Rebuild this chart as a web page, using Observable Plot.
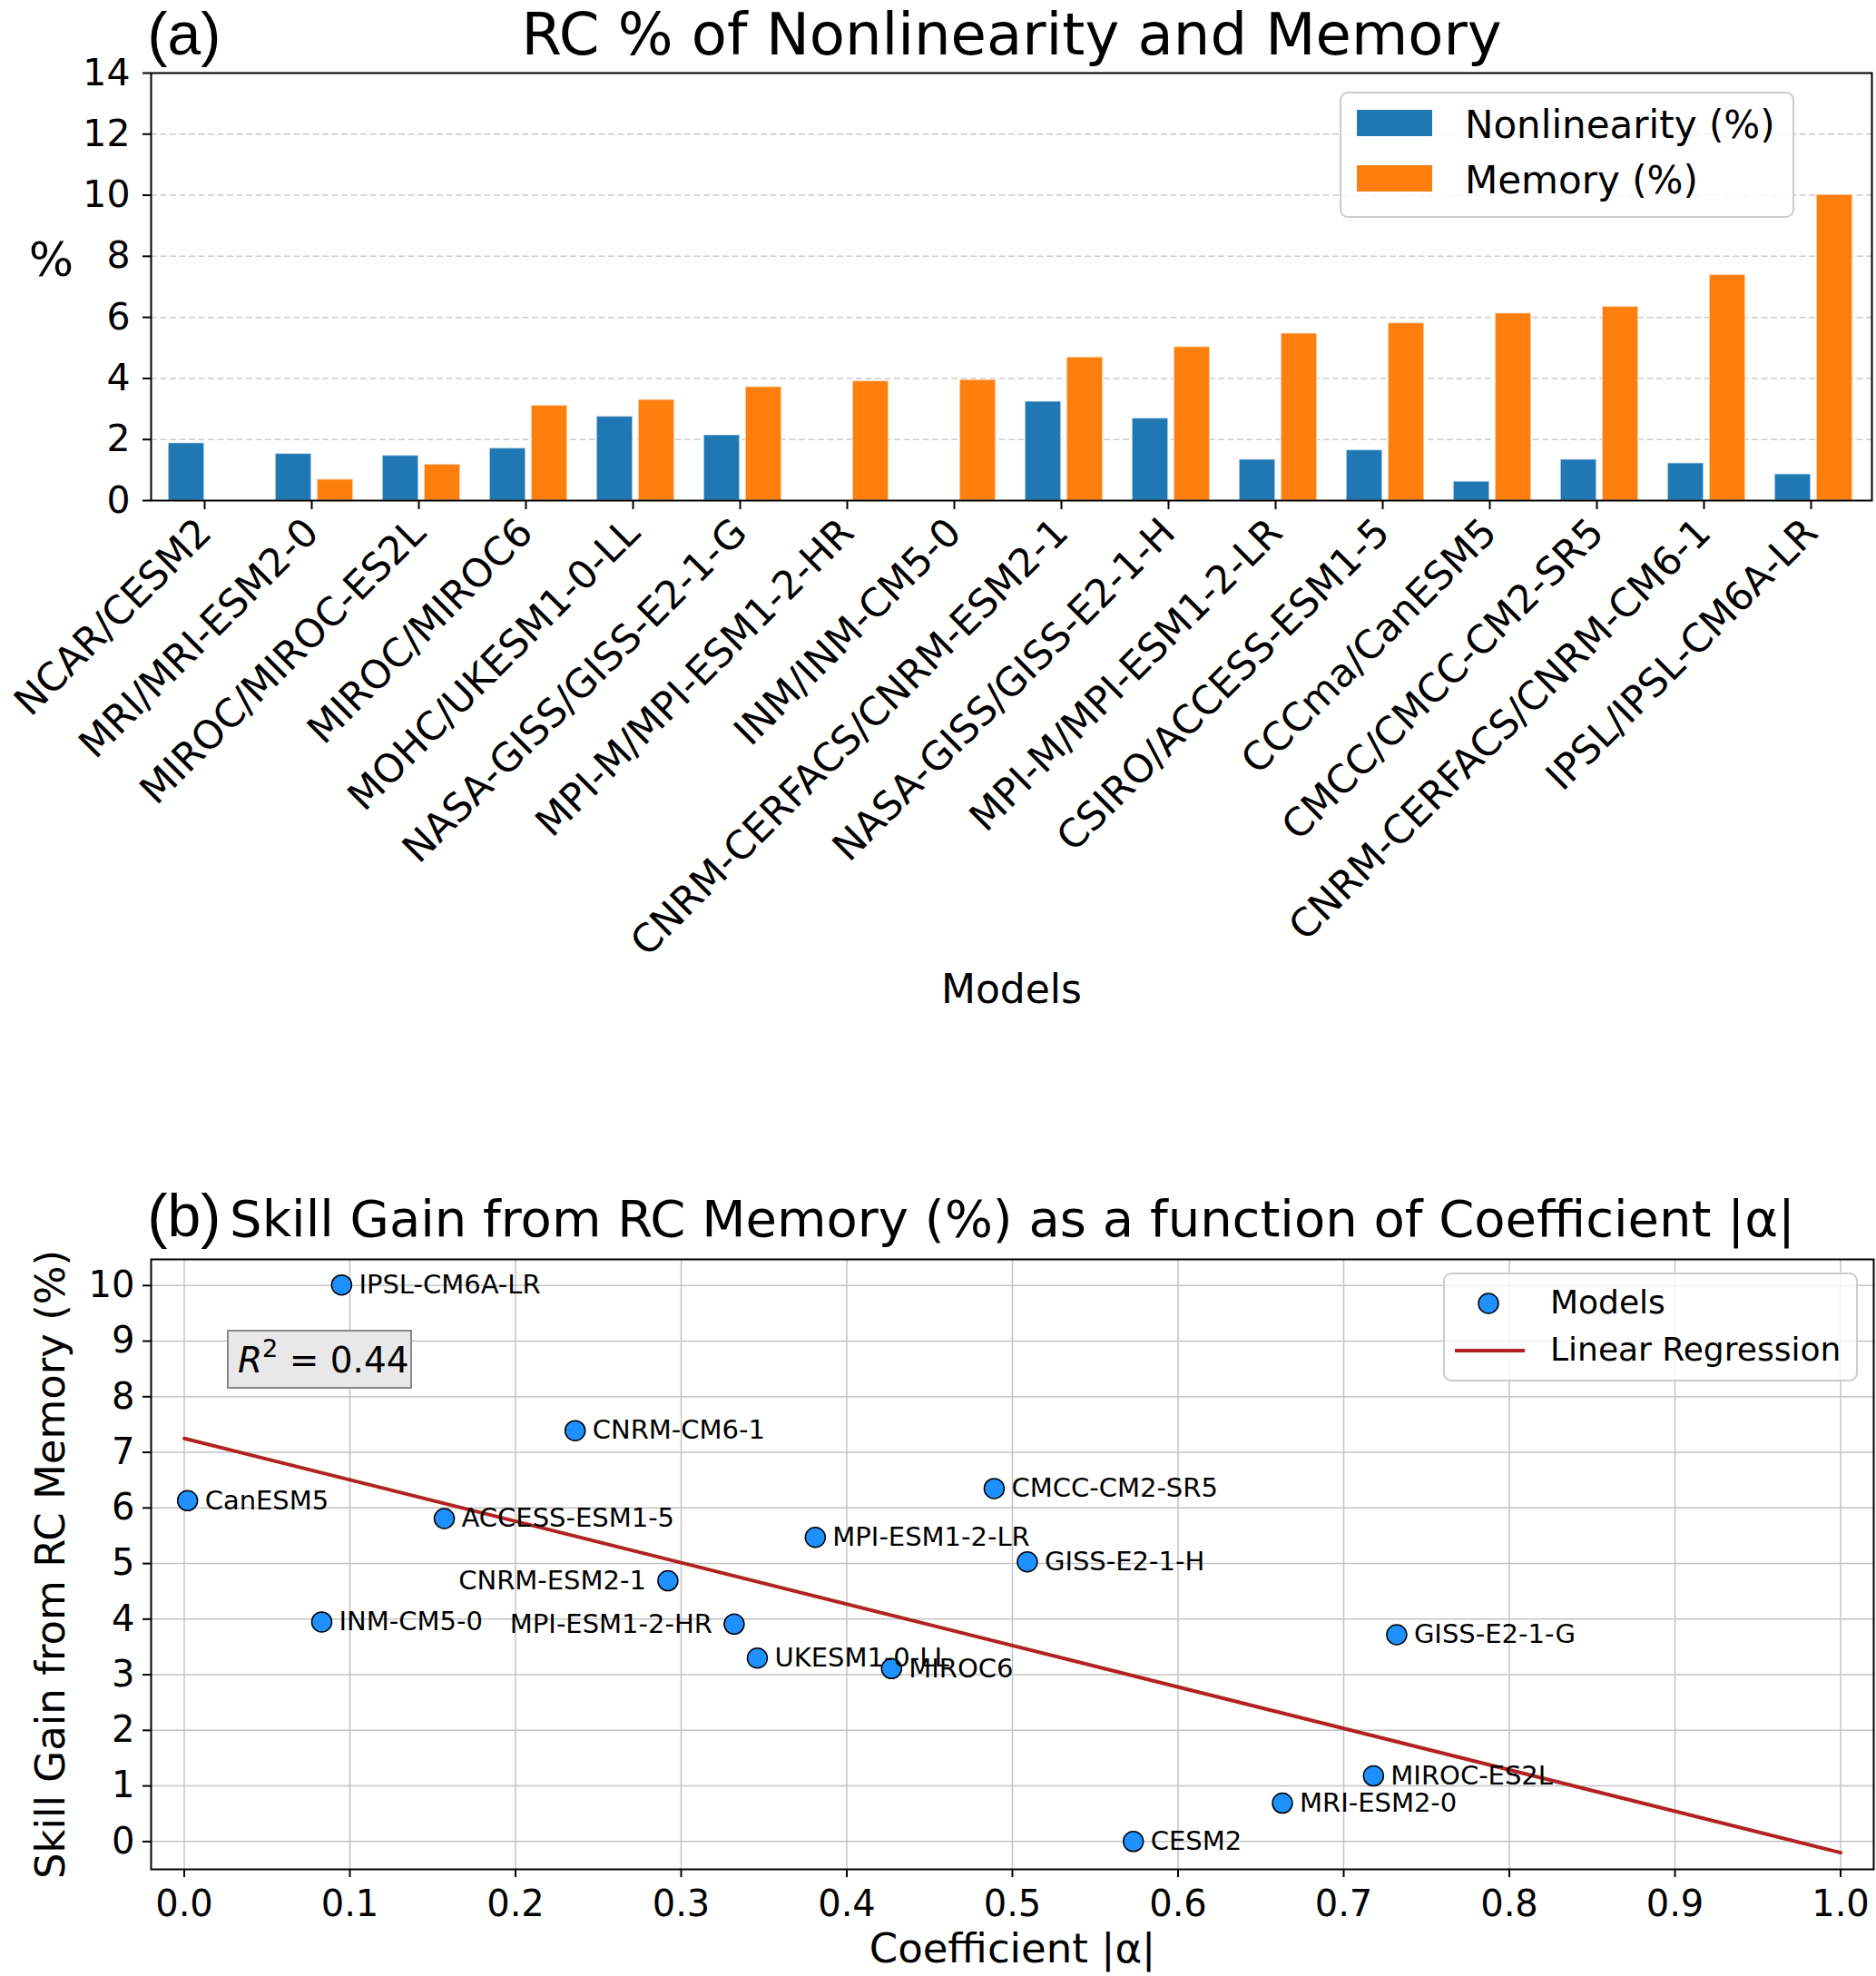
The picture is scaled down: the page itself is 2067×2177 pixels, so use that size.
<!DOCTYPE html>
<html><head><meta charset="utf-8">
<script src="https://cdn.jsdelivr.net/npm/d3@7"></script>
<script src="https://cdn.jsdelivr.net/npm/@observablehq/plot@0.6"></script>
<style>
body{margin:0;background:#fff;}
#fig{position:relative;width:2067px;height:2177px;background:#fff;font-family:"DejaVu Sans";overflow:hidden;}
#fig svg{position:absolute;left:0;overflow:visible;}
</style></head><body><div id="fig"></div>
<script>
// ---------- data ----------
const models = ["NCAR/CESM2","MRI/MRI-ESM2-0","MIROC/MIROC-ES2L","MIROC/MIROC6","MOHC/UKESM1-0-LL","NASA-GISS/GISS-E2-1-G","MPI-M/MPI-ESM1-2-HR","INM/INM-CM5-0","CNRM-CERFACS/CNRM-ESM2-1","NASA-GISS/GISS-E2-1-H","MPI-M/MPI-ESM1-2-LR","CSIRO/ACCESS-ESM1-5","CCCma/CanESM5","CMCC/CMCC-CM2-SR5","CNRM-CERFACS/CNRM-CM6-1","IPSL/IPSL-CM6A-LR"];
const nonlinearity = [1.88,1.53,1.47,1.71,2.75,2.14,0,0,3.24,2.69,1.34,1.65,0.62,1.34,1.22,0.86];
const memory = [0,0.69,1.18,3.11,3.30,3.72,3.91,3.95,4.69,5.03,5.47,5.81,6.13,6.35,7.39,10.01];
const shortNames = ["CESM2","MRI-ESM2-0","MIROC-ES2L","MIROC6","UKESM1-0-LL","GISS-E2-1-G","MPI-ESM1-2-HR","INM-CM5-0","CNRM-ESM2-1","GISS-E2-1-H","MPI-ESM1-2-LR","ACCESS-ESM1-5","CanESM5","CMCC-CM2-SR5","CNRM-CM6-1","IPSL-CM6A-LR"];
const alphaCoef = [0.573,0.663,0.718,0.427,0.346,0.732,0.332,0.083,0.292,0.509,0.381,0.157,0.002,0.489,0.236,0.095];
const labelSide = ["right","right","right","right","right","right","left","right","left","right","right","right","right","right","right","right"];
const regX = [0, 1];
const regY = [7.25, -0.2];
const r2Value = [0.44];
const seriesNames = ["Nonlinearity (%)","Memory (%)"];
const seriesColors = ["#1f77b4","#ff7f0e"];
const yTicksA = [0,2,4,6,8,10,12,14];
const xTicksB = [0,0.1,0.2,0.3,0.4,0.5,0.6,0.7,0.8,0.9,1.0];
const yTicksB = [0,1,2,3,4,5,6,7,8,9,10];
const titles = ["RC % of Nonlinearity and Memory","Skill Gain from RC Memory (%) as a function of Coefficient |α|"];
const panelLetters = ["(a)","(b)"];
const axisLabels = ["%","Models","Skill Gain from RC Memory (%)","Coefficient |α|"];
const legendB = ["Models","Linear Regression"];

// ---------- tables ----------
const W = 2067;
const FONT = "DejaVu Sans";
const barRows = models.flatMap((m,i)=>[
  {model:m, series:seriesNames[0], value:nonlinearity[i]},
  {model:m, series:seriesNames[1], value:memory[i]}
]);
const pts = shortNames.map((n,i)=>({name:n, a:alphaCoef[i], m:memory[i], side:labelSide[i]}));
const regRows = regX.map((x,i)=>({x, y:regY[i]}));

const fig = document.getElementById("fig");

// ---------- panel (a) ----------
const mlA = 166, mrA = 5;
const bw = (W - mlA - mrA) / models.length;
const barEdge = {stroke: "white", strokeOpacity: 0.45, strokeWidth: 1.5};
const chartA = Plot.plot({
  width: W, height: 1130, marginTop: 80, marginBottom: 579, marginLeft: mlA, marginRight: mrA,
  style: {fontFamily: FONT, background: "white", overflow: "visible"},
  x: {domain: models, padding: 0},
  y: {domain: [0, 14]},
  marks: [
    Plot.gridY(yTicksA.filter(d => d > 0 && d < 14), {stroke: "#cccccc", strokeOpacity: 1, strokeWidth: 1.5, strokeDasharray: "7,3.5"}),
    Plot.barY(barRows.filter(d => d.series === seriesNames[0]), {x: "model", y: "value", fill: seriesColors[0], ...barEdge, insetLeft: bw/2 - 44, insetRight: bw/2 + 4}),
    Plot.barY(barRows.filter(d => d.series === seriesNames[1]), {x: "model", y: "value", fill: seriesColors[1], ...barEdge, insetLeft: bw/2 + 2, insetRight: bw/2 - 42}),
    Plot.frame({stroke: "black", strokeWidth: 2}),
    Plot.axisY(yTicksA, {tickSize: 9, tickPadding: 14, fontSize: 41, strokeWidth: 2, label: null, tickFormat: d3.format("d")}),
    Plot.axisX({tickRotate: -45, tickSize: 10, tickPadding: 18, dx: -4, fontSize: 43, strokeWidth: 2, label: null}),
    Plot.text([titles[0]], {text: d => d, frameAnchor: "top", dy: -21, lineAnchor: "bottom", fontSize: 64}),
    Plot.text([panelLetters[0]], {text: d => d, frameAnchor: "top-left", dx: -4, dy: -21, lineAnchor: "bottom", textAnchor: "start", fontSize: 66, fontFamily: "Liberation Sans"}),
    Plot.text([axisLabels[0]], {text: d => d, frameAnchor: "left", dx: -110, dy: -12, lineAnchor: "bottom", textAnchor: "middle", fontSize: 52}),
    Plot.text([axisLabels[1]], {text: d => d, frameAnchor: "bottom", dy: 553, lineAnchor: "bottom", fontSize: 44})
  ]
});
chartA.style.top = "0px";
fig.appendChild(chartA);

// legend (a)
{
  const g = d3.select(chartA).append("g").attr("font-family", FONT).attr("text-anchor", "start");
  g.append("rect").attr("x", 1477).attr("y", 102).attr("width", 499).attr("height", 137).attr("rx", 8)
    .attr("fill", "white").attr("fill-opacity", 0.8).attr("stroke", "#cccccc").attr("stroke-width", 2);
  seriesNames.forEach((s, i) => {
    g.append("rect").attr("x", 1495).attr("y", 121 + i*61).attr("width", 83).attr("height", 29).attr("fill", seriesColors[i]);
    g.append("text").attr("x", 1614).attr("y", 152 + i*61).attr("font-size", 42).attr("fill", "black").text(s);
  });
}

// ---------- panel (b) ----------
const chartB = Plot.plot({
  width: W, height: 887, marginTop: 97, marginBottom: 118, marginLeft: 166, marginRight: 3,
  style: {fontFamily: FONT, background: "white", overflow: "visible"},
  x: {domain: [-0.02, 1.02]},
  y: {domain: [-0.5, 10.47]},
  marks: [
    Plot.gridX(xTicksB, {stroke: "#c4c4c4", strokeOpacity: 1, strokeWidth: 1.5}),
    Plot.gridY(yTicksB, {stroke: "#c4c4c4", strokeOpacity: 1, strokeWidth: 1.5}),
    Plot.line(regRows, {x: "x", y: "y", stroke: "#b22222", strokeWidth: 4}),
    Plot.dot(pts, {x: "a", y: "m", r: 11, fill: "#1e90ff", stroke: "black", strokeWidth: 1.5}),
    Plot.text(pts.filter(d => d.side === "right"), {x: "a", y: "m", text: "name", dx: 19, textAnchor: "start", fontSize: 29}),
    Plot.text(pts.filter(d => d.side === "left"), {x: "a", y: "m", text: "name", dx: -24, textAnchor: "end", fontSize: 29}),
    Plot.frame({stroke: "black", strokeWidth: 2}),
    Plot.axisX(xTicksB, {tickSize: 9, tickPadding: 14, fontSize: 40, tickFormat: d3.format(".1f"), strokeWidth: 2, label: null}),
    Plot.axisY(yTicksB, {tickSize: 9, tickPadding: 9, fontSize: 40, tickFormat: d3.format("d"), strokeWidth: 2, label: null}),
    Plot.text([titles[1]], {text: d => d, frameAnchor: "top", dy: -26, lineAnchor: "bottom", fontSize: 56}),
    Plot.text([panelLetters[1]], {text: d => d, frameAnchor: "top-left", dx: -4, dy: -26, lineAnchor: "bottom", textAnchor: "start", fontSize: 66, fontFamily: "Liberation Sans"}),
    Plot.text([axisLabels[2]], {text: d => d, frameAnchor: "left", dx: -110, rotate: -90, lineAnchor: "middle", textAnchor: "middle", fontSize: 45}),
    Plot.text([axisLabels[3]], {text: d => d, frameAnchor: "bottom", dy: 102, lineAnchor: "bottom", fontSize: 45})
  ]
});
chartB.style.top = "1290px";
fig.appendChild(chartB);

// R^2 box and legend (b)
{
  const s = d3.select(chartB);
  const g = s.append("g").attr("font-family", FONT).attr("text-anchor", "start");
  g.append("rect").attr("x", 251).attr("y", 176).attr("width", 202).attr("height", 63)
    .attr("fill", "#e8e8e8").attr("stroke", "#888888").attr("stroke-width", 2);
  const t = g.append("text").attr("x", 262).attr("y", 222).attr("font-size", 39).attr("fill", "black").style("white-space", "pre");
  t.append("tspan").attr("font-style", "italic").text("R");
  t.append("tspan").attr("dy", -17).attr("font-size", 27).text("2");
  t.append("tspan").attr("dy", 17).text(" = " + r2Value[0].toFixed(2));

  const l = s.append("g").attr("font-family", FONT).attr("text-anchor", "start");
  l.append("rect").attr("x", 1591).attr("y", 113).attr("width", 455).attr("height", 118).attr("rx", 8)
    .attr("fill", "white").attr("fill-opacity", 0.8).attr("stroke", "#cccccc").attr("stroke-width", 2);
  l.append("circle").attr("cx", 1640).attr("cy", 146).attr("r", 11).attr("fill", "#1e90ff").attr("stroke", "black").attr("stroke-width", 1.5);
  l.append("line").attr("x1", 1603).attr("x2", 1680).attr("y1", 198).attr("y2", 198).attr("stroke", "#b22222").attr("stroke-width", 4);
  legendB.forEach((txt, i) => {
    l.append("text").attr("x", 1708).attr("y", 157 + i*52).attr("font-size", 36).attr("fill", "black").text(txt);
  });
}
</script>
</body></html>
